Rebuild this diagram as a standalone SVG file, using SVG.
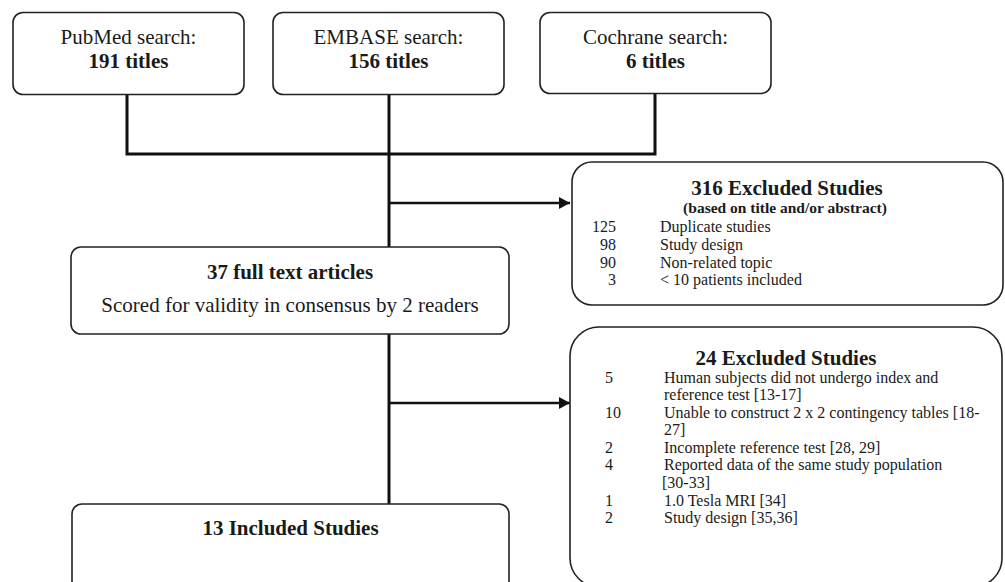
<svg xmlns="http://www.w3.org/2000/svg" width="1005" height="582" viewBox="0 0 1005 582">
<style>
.box{fill:#fff;stroke:#222;stroke-width:1.6}
.t{font-family:"Liberation Serif","Times New Roman",serif;fill:#1a1a1a}
.c{text-anchor:middle}
.r{text-anchor:end}
.big{font-size:21px}
.sm{font-size:16px}
.b{font-weight:bold}
.ln{fill:none;stroke:#111;stroke-width:3}
.ar{fill:none;stroke:#111;stroke-width:2.6}
</style>
<defs>
<marker id="ah" markerWidth="11" markerHeight="12" refX="11" refY="6" orient="auto" markerUnits="userSpaceOnUse">
<path d="M0,0 L11,6 L0,12 Z" fill="#111"/>
</marker>
</defs>
<g id="connectors">
<path class="ln" d="M127,94 V154 H655 V94"/>
<path class="ln" d="M389,94 V247"/>
<path class="ln" d="M389,334 V504"/>
<path class="ar" d="M389,203 H570" marker-end="url(#ah)"/>
<path class="ar" d="M389,403 H570" marker-end="url(#ah)"/>
</g>
<g id="pubmed">
<rect class="box" x="13" y="12.5" width="231" height="82" rx="10"/>
<text class="t c big" x="128.5" y="44">PubMed search:</text>
<text class="t c big b" x="128.5" y="68">191 titles</text>
</g>
<g id="embase">
<rect class="box" x="273" y="12.5" width="231" height="82" rx="10"/>
<text class="t c big" x="388.5" y="44">EMBASE search:</text>
<text class="t c big b" x="388.5" y="68">156 titles</text>
</g>
<g id="cochrane">
<rect class="box" x="540" y="12.5" width="231" height="81" rx="10"/>
<text class="t c big" x="655.5" y="44">Cochrane search:</text>
<text class="t c big b" x="655.5" y="68">6 titles</text>
</g>
<g id="excluded316">
<rect class="box" x="572" y="162" width="431" height="143" rx="20"/>
<text class="t c big b" x="787" y="195">316 Excluded Studies</text>
<text class="t c b" style="font-size:15.5px" x="785" y="213">(based on title and/or abstract)</text>
<text class="t r sm" x="616" y="232">125</text><text class="t sm" x="660" y="232">Duplicate studies</text>
<text class="t r sm" x="616" y="250">98</text><text class="t sm" x="660" y="250">Study design</text>
<text class="t r sm" x="616" y="268">90</text><text class="t sm" x="660" y="268">Non-related topic</text>
<text class="t r sm" x="616" y="285">3</text><text class="t sm" x="660" y="285">&lt; 10 patients included</text>
</g>
<g id="fulltext37">
<rect class="box" x="71" y="247" width="438" height="87" rx="10"/>
<text class="t c big b" x="290" y="279">37 full text articles</text>
<text class="t c big" x="290" y="312">Scored for validity in consensus by 2 readers</text>
</g>
<g id="excluded24">
<rect class="box" x="570" y="327" width="432" height="260" rx="29"/>
<text class="t c big b" x="786" y="365">24 Excluded Studies</text>
<text class="t sm" x="605" y="383">5</text><text class="t sm" x="664" y="383">Human subjects did not undergo index and</text>
<text class="t sm" x="664" y="400">reference test [13-17]</text>
<text class="t sm" x="605" y="418">10</text><text class="t sm" x="664" y="418">Unable to construct 2 x 2 contingency tables [18-</text>
<text class="t sm" x="664" y="435">27]</text>
<text class="t sm" x="605" y="453">2</text><text class="t sm" x="664" y="453">Incomplete reference test [28, 29]</text>
<text class="t sm" x="605" y="470">4</text><text class="t sm" x="664" y="470">Reported data of the same study population</text>
<text class="t sm" x="662" y="488">[30-33]</text>
<text class="t sm" x="605" y="506">1</text><text class="t sm" x="664" y="506">1.0 Tesla MRI [34]</text>
<text class="t sm" x="605" y="523">2</text><text class="t sm" x="664" y="523">Study design [35,36]</text>
</g>
<g id="included13">
<rect class="box" x="72" y="504" width="437" height="110" rx="10"/>
<text class="t c big b" x="290.5" y="535">13 Included Studies</text>
</g>
</svg>
